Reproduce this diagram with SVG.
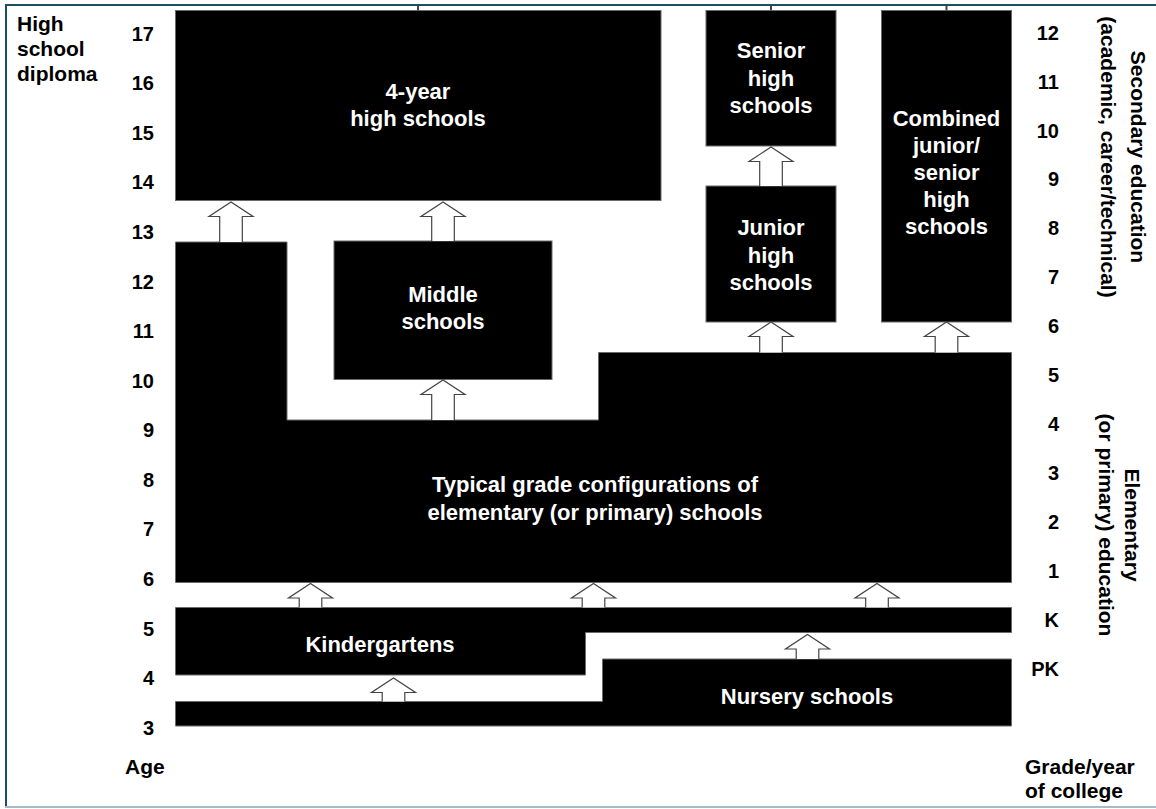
<svg xmlns="http://www.w3.org/2000/svg" width="1156" height="809" viewBox="0 0 1156 809">
<style>
.box{fill:#000;stroke:#6a6a6a;stroke-width:1}
.bt{fill:#fff;font-family:"Liberation Sans",Arial,sans-serif;font-weight:bold;font-size:22px;text-anchor:middle}
.lab{fill:#000;font-family:"Liberation Sans",Arial,sans-serif;font-weight:bold;font-size:21px}
.num{fill:#000;font-family:"Liberation Sans",Arial,sans-serif;font-weight:bold;font-size:20px;text-anchor:end}
.arr{fill:#fff;stroke:#444;stroke-width:1.2;stroke-linejoin:miter}
.tick{stroke:#444;stroke-width:2}
</style>
<rect x="0" y="0" width="1156" height="809" fill="#fff"/>
<g id="frame">
<line x1="5" y1="5" x2="1156" y2="5" stroke="#1c4e66" stroke-width="2"/>
<line x1="6" y1="4" x2="6" y2="808" stroke="#1c4e66" stroke-width="2"/>
<line x1="5" y1="807" x2="1156" y2="807" stroke="#a4bccb" stroke-width="2"/>
</g>
<g id="four-year">
<rect class="box" x="175.5" y="10.5" width="485.5" height="190"/>
<text class="bt" x="418" y="99">4-year</text>
<text class="bt" x="418" y="126">high schools</text>
</g>
<g id="senior">
<rect class="box" x="706" y="10.5" width="130" height="135.5"/>
<text class="bt" x="771" y="58">Senior</text>
<text class="bt" x="771" y="85.5">high</text>
<text class="bt" x="771" y="113">schools</text>
</g>
<g id="junior">
<rect class="box" x="706" y="186" width="130" height="136"/>
<text class="bt" x="771" y="235">Junior</text>
<text class="bt" x="771" y="262.5">high</text>
<text class="bt" x="771" y="290">schools</text>
</g>
<g id="combined">
<rect class="box" x="881.5" y="10.5" width="130" height="311.5"/>
<text class="bt" x="946.5" y="126">Combined</text>
<text class="bt" x="946.5" y="153">junior/</text>
<text class="bt" x="946.5" y="180">senior</text>
<text class="bt" x="946.5" y="207">high</text>
<text class="bt" x="946.5" y="234">schools</text>
</g>
<g id="middle">
<rect class="box" x="334" y="241" width="218" height="138.5"/>
<text class="bt" x="443" y="302">Middle</text>
<text class="bt" x="443" y="329">schools</text>
</g>
<g id="elementary">
<polygon class="box" points="175.5,242 287,242 287,420 598.5,420 598.5,352.5 1011.5,352.5 1011.5,582.5 175.5,582.5"/>
<text class="bt" x="595" y="492">Typical grade configurations of</text>
<text class="bt" x="595" y="520">elementary (or primary) schools</text>
</g>
<g id="kindergartens">
<polygon class="box" points="175.5,607.5 1011.5,607.5 1011.5,632.5 585.5,632.5 585.5,675 175.5,675"/>
<text class="bt" x="380" y="652">Kindergartens</text>
</g>
<g id="nursery">
<polygon class="box" points="175.5,701.5 602.5,701.5 602.5,659 1011.5,659 1011.5,726 175.5,726"/>
<text class="bt" x="807" y="703.5">Nursery schools</text>
</g>
<g id="connectors">
<line class="tick" x1="418" y1="5" x2="418" y2="10.5"/>
<line class="tick" x1="771" y1="5" x2="771" y2="10.5"/>
<line class="tick" x1="946.5" y1="5" x2="946.5" y2="10.5"/>
<path class="arr" d="M219.7,242 V216.5 H209 L231,202 L253,216.5 H242.3 V242"/>
<path class="arr" d="M431.7,241 V216.5 H421 L443,202 L465,216.5 H454.3 V241"/>
<path class="arr" d="M431.7,420 V394.5 H421 L443,380 L465,394.5 H454.3 V420"/>
<path class="arr" d="M759.7,186 V161.5 H749 L771,147 L793,161.5 H782.3 V186"/>
<path class="arr" d="M759.7,352.5 V336.5 H749 L771,322 L793,336.5 H782.3 V352.5"/>
<path class="arr" d="M935.2,352.5 V336.5 H924.5 L946.5,322 L968.5,336.5 H957.8 V352.5"/>
<path class="arr" d="M299.2,607.5 V598 H288.5 L310.5,583.5 L332.5,598 H321.8 V607.5"/>
<path class="arr" d="M582.2,607.5 V598 H571.5 L593.5,583.5 L615.5,598 H604.8 V607.5"/>
<path class="arr" d="M865.7,607.5 V598 H855 L877,583.5 L899,598 H888.3 V607.5"/>
<path class="arr" d="M796.2,659 V649 H785.5 L807.5,634.5 L829.5,649 H818.8 V659"/>
<path class="arr" d="M382.2,701.5 V692.5 H371.5 L393.5,678 L415.5,692.5 H404.8 V701.5"/>
</g>
<g id="labels">
<text class="lab" x="17" y="31">High</text>
<text class="lab" x="17" y="56">school</text>
<text class="lab" x="17" y="81">diploma</text>
<text class="lab" x="125" y="774">Age</text>
<text class="lab" x="1025" y="774">Grade/year</text>
<text class="lab" x="1025" y="798">of college</text>
<text class="lab" font-size="22" text-anchor="middle" transform="translate(1131,157) rotate(90)">Secondary education</text>
<text class="lab" font-size="22" text-anchor="middle" transform="translate(1101,157) rotate(90)">(academic, career/technical)</text>
<text class="lab" font-size="22" text-anchor="middle" transform="translate(1125,525) rotate(90)">Elementary</text>
<text class="lab" font-size="22" text-anchor="middle" transform="translate(1099,525) rotate(90)">(or primary) education</text>
</g>
<g id="age-scale">
<text class="num" x="154" y="40.5">17</text>
<text class="num" x="154" y="90">16</text>
<text class="num" x="154" y="139.5">15</text>
<text class="num" x="154" y="189">14</text>
<text class="num" x="154" y="238.5">13</text>
<text class="num" x="154" y="288.5">12</text>
<text class="num" x="154" y="338">11</text>
<text class="num" x="154" y="387.5">10</text>
<text class="num" x="154" y="437">9</text>
<text class="num" x="154" y="486.5">8</text>
<text class="num" x="154" y="536">7</text>
<text class="num" x="154" y="586">6</text>
<text class="num" x="154" y="635.5">5</text>
<text class="num" x="154" y="685">4</text>
<text class="num" x="154" y="735">3</text>
</g>
<g id="grade-scale">
<text class="num" x="1059" y="39.5">12</text>
<text class="num" x="1059" y="88.5">11</text>
<text class="num" x="1059" y="137.5">10</text>
<text class="num" x="1059" y="186">9</text>
<text class="num" x="1059" y="235">8</text>
<text class="num" x="1059" y="284">7</text>
<text class="num" x="1059" y="333">6</text>
<text class="num" x="1059" y="382">5</text>
<text class="num" x="1059" y="431">4</text>
<text class="num" x="1059" y="480">3</text>
<text class="num" x="1059" y="528.5">2</text>
<text class="num" x="1059" y="577.5">1</text>
<text class="num" x="1059" y="626.5">K</text>
<text class="num" x="1059" y="675.5">PK</text>
</g>
</svg>
